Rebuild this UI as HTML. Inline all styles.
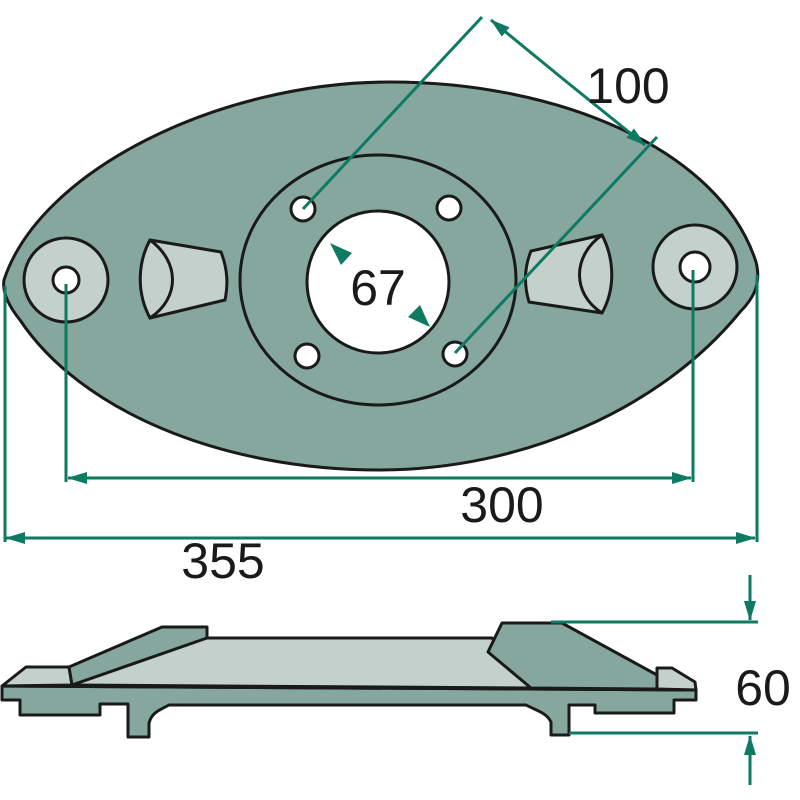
<!DOCTYPE html>
<html><head><style>
html,body{margin:0;padding:0;background:#fff;}
svg{display:block;}
text{font-family:"Liberation Sans",sans-serif;fill:#1a1a1a;}
</style></head><body>
<svg width="800" height="800" viewBox="0 0 800 800" xmlns="http://www.w3.org/2000/svg">
<defs>
<marker id="ab" markerWidth="20" markerHeight="12" refX="19" refY="6" orient="auto" markerUnits="userSpaceOnUse"><path d="M0,0 L20,6 L0,12 Z" fill="#0e7a62"/></marker>
</defs>
<path d="M4,280 C40,170 220,82 390,82 C560,82 720,150 756,262 C762,285 752,300 740,312 C660,410 520,470 380,470 C220,470 80,410 20,320 C8,305 2,292 4,280 Z" fill="#86a79e" stroke="#1a1a1a" stroke-width="3"/>
<circle cx="66" cy="280" r="42" fill="#c3d0cc" stroke="#1a1a1a" stroke-width="3"/>
<circle cx="66" cy="280" r="13" fill="#fff" stroke="#1a1a1a" stroke-width="3"/>
<circle cx="695" cy="267" r="42" fill="#c3d0cc" stroke="#1a1a1a" stroke-width="3"/>
<circle cx="695" cy="267" r="15" fill="#fff" stroke="#1a1a1a" stroke-width="3"/>
<ellipse cx="378" cy="280" rx="138" ry="125" fill="none" stroke="#1a1a1a" stroke-width="3"/>
<circle cx="378" cy="282" r="71" fill="#fff" stroke="#1a1a1a" stroke-width="3"/>
<circle cx="303" cy="209" r="12" fill="#fff" stroke="#1a1a1a" stroke-width="3"/>
<circle cx="449" cy="208" r="12" fill="#fff" stroke="#1a1a1a" stroke-width="3"/>
<circle cx="307" cy="356" r="12" fill="#fff" stroke="#1a1a1a" stroke-width="3"/>
<circle cx="455" cy="354" r="12" fill="#fff" stroke="#1a1a1a" stroke-width="3"/>
<path d="M150,240 L221,252 C228,270 228,285 225,300 L150,318 C136,292 138,262 150,240 Z" fill="#c3d0cc" stroke="#1a1a1a" stroke-width="3"/>
<path d="M150,240 C180,262 180,298 150,318" fill="none" stroke="#1a1a1a" stroke-width="3"/>
<path d="M602,235 L531,251 C524,268 524,285 529,302 L602,313 C616,288 614,258 602,235 Z" fill="#c3d0cc" stroke="#1a1a1a" stroke-width="3"/>
<path d="M602,235 C572,256 572,294 602,313" fill="none" stroke="#1a1a1a" stroke-width="3"/>
<g stroke="#0e7a62" stroke-width="3" fill="none">
<line x1="303" y1="209" x2="482" y2="17"/>
<line x1="455" y1="353" x2="657" y2="137"/>
<line x1="568" y1="83" x2="491" y2="20" marker-end="url(#ab)"/>
<line x1="568" y1="83" x2="645" y2="145" marker-end="url(#ab)"/>
<line x1="66" y1="284" x2="66" y2="482"/>
<line x1="693" y1="270" x2="693" y2="482"/>
<line x1="380" y1="478" x2="68" y2="478" marker-end="url(#ab)"/>
<line x1="380" y1="478" x2="691" y2="478" marker-end="url(#ab)"/>
<line x1="5" y1="286" x2="5" y2="542"/>
<line x1="757" y1="275" x2="757" y2="542"/>
<line x1="380" y1="538" x2="6" y2="538" marker-end="url(#ab)"/>
<line x1="380" y1="538" x2="755" y2="538" marker-end="url(#ab)"/>
</g>
<path d="M330,243 L352,253 L341,265 Z" fill="#0e7a62"/>
<path d="M430,327 L408,317 L420,305 Z" fill="#0e7a62"/>
<text x="378" y="305" font-size="50" text-anchor="middle">67</text>
<text x="628" y="103" font-size="50" text-anchor="middle">100</text>
<text x="502" y="522" font-size="50" text-anchor="middle">300</text>
<text x="223" y="578" font-size="50" text-anchor="middle">355</text>
<path d="M2,686 L2,700 L20,700 L20,715 L100,715 L100,704 L128,704 L128,737 L149,737 L149,723 C152,712 160,710 169,705 L526,705 C535,710 546,712 551,722 L551,735 L569,735 L569,705 L595,705 L595,713 L674,713 L674,700 L696,700 L696,690 Z" fill="#86a79e" stroke="#1a1a1a" stroke-width="3" stroke-linejoin="round"/>
<path d="M72,685 L205,638 L492,638 L531,688 Z" fill="#c3d0cc" stroke="#1a1a1a" stroke-width="3" stroke-linejoin="round"/>
<path d="M2,686 L26,667 L69,667 L72,685 Z" fill="#c3d0cc" stroke="#1a1a1a" stroke-width="3" stroke-linejoin="round"/>
<path d="M69,667 L162,627 L207,627 L207,638 L72,685 Z" fill="#86a79e" stroke="#1a1a1a" stroke-width="3" stroke-linejoin="round"/>
<path d="M657,668 L672,668 L695,682 L696,690 L657,689 Z" fill="#c3d0cc" stroke="#1a1a1a" stroke-width="3" stroke-linejoin="round"/>
<path d="M502,623 L562,623 L657,675 L657,689 L531,688 L488,652 Z" fill="#86a79e" stroke="#1a1a1a" stroke-width="3" stroke-linejoin="round"/>
<line x1="2" y1="686" x2="696" y2="690" stroke="#1a1a1a" stroke-width="3"/>
<g stroke="#0e7a62" stroke-width="3" fill="none">
<line x1="551" y1="622" x2="758" y2="622"/>
<line x1="569" y1="733" x2="758" y2="733"/>
<line x1="750" y1="575" x2="750" y2="620" marker-end="url(#ab)"/>
<line x1="750" y1="785" x2="750" y2="736" marker-end="url(#ab)"/>
</g>
<text x="763" y="705" font-size="50" text-anchor="middle">60</text>
</svg>
</body></html>
